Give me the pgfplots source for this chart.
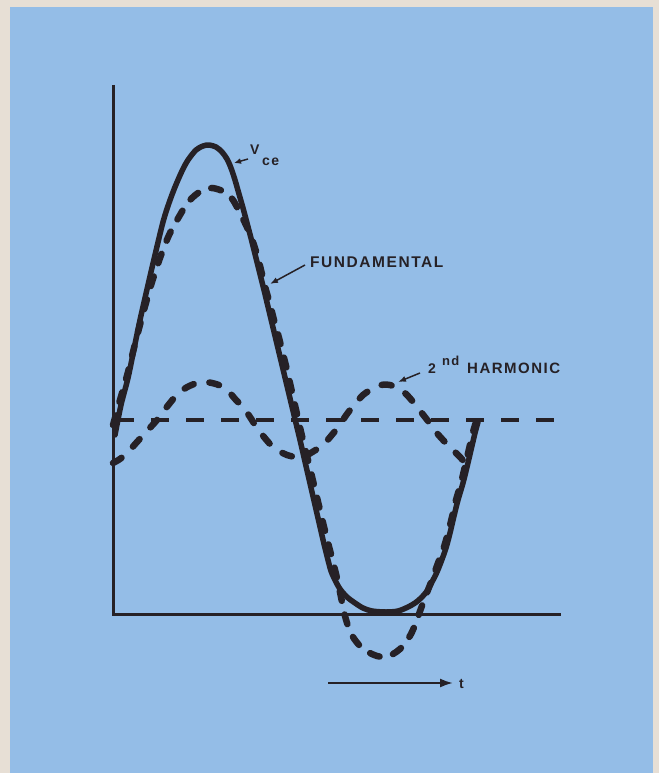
\documentclass[border=0pt]{standalone}
\usepackage{pgfplots}
\pgfplotsset{compat=1.18}
\usepackage{fontspec}
\setmainfont{Liberation Sans}
\newfontfamily\lab[LetterSpace=10]{Liberation Sans Bold}
\usetikzlibrary{arrows.meta}
\definecolor{bgblue}{RGB}{148,189,231}
\definecolor{beige}{RGB}{231,223,213}
\definecolor{ink}{RGB}{38,33,38}
\begin{document}
\begin{tikzpicture}
\begin{axis}[
  at={(0,0)}, anchor=south west,
  scale only axis, width=659bp, height=773bp,
  xmin=0, xmax=659, ymin=0, ymax=773, y dir=reverse,
  hide axis, clip=false,
]
% background panels
\addplot[fill=beige, draw=none] coordinates {(0,0)(659,0)(659,773)(0,773)} -- cycle;
\addplot[fill=bgblue, draw=none] coordinates {(10,7)(653,7)(653,773)(10,773)} -- cycle;
% axes
\addplot[ink, line width=3bp] coordinates {(113,85)(113,614)(561,614)};
% mean level
\addplot[ink, line width=3.5bp, dash pattern=on 18bp off 17bp] coordinates {(116,420)(560,420)};
% 2nd harmonic
\addplot[ink, line width=6.5bp, line cap=round, dash pattern=on 10bp off 16bp, smooth] coordinates {
(113,463)(120,459)(128,452)(137,442)(147,431)(157,420)(166,408)(175,397)(184,389)(194,384)(203,382)(212,383)(221,386)(229,392)(236,400)(243,407)(250,417)(257,428)(264,437)(271,445)(279,451)(287,455)(296,457)(305,456)(314,451)(323,445)(331,436)(339,426)(347,414)(355,404)(363,395)(372,389)(381,385)(390,385)(398,388)(406,394)(414,403)(421,412)(428,421)(436,432)(444,441)(452,449)(460,457)(467,465)};
% fundamental
\addplot[ink, line width=6.5bp, line cap=round, dash pattern=on 10bp off 14bp, smooth] coordinates {
(113,425)(120,400)(128,372)(136,340)(144,310)(152,282)(160,258)(166,242)(172,229)(180,215)(186,205)(192,198)(198,193)(204,190)(212,188)(220,190)(226,193)(233,200)(240,213)(245,223)(250,234)(254,245)(258,258)(262,274)(266,290)(270,304)(274,320)(278,334)(282,350)(287,370)(292,392)(297,414)(302,436)(308,460)(314,485)(320,510)(326,535)(332,558)(337,578)(341,597)(344,612)(348,626)(353,637)(360,646)(368,652)(377,656)(385,657)(393,654)(400,649)(406,642)(411,634)(415,625)(419,614)(423,603)(428,590)(433,577)(438,563)(443,550)(448,533)(452,517)(456,500)(461,483)(465,466)(469,449)(473,432)(476,422)};
% V_ce
\addplot[ink, line width=5.5bp, line cap=round, line join=round, smooth] coordinates {
(115,435)(121,405)(128,378)(134,349)(140,320)(148,285)(155,255)(163,222)(169,203)(175,187)(182,171)(188,160)(196,150)(203,146)(209,145)(216,147)(222,152)(227,159)(231,168)(235,180)(239,194)(243,208)(247,223)(252,242)(258,266)(264,290)(270,315)(276,340)(282,365)(288,390)(294,415)(300,440)(306,466)(312,492)(318,518)(324,544)(328,560)(331,571)(335,580)(340,589)(347,597)(355,603)(363,608)(372,611)(386,612)(398,611)(408,607)(415,603)(421,598)(427,591)(432,582)(437,572)(441,562)(446,548)(450,533)(454,516)(458,500)(463,483)(467,467)(471,450)(475,433)(478,422)};
% labels
\node[anchor=base west, inner sep=0pt, text=ink] at (axis cs:250,155) {\lab\fontsize{14bp}{14bp}\selectfont V};
\node[anchor=base west, inner sep=0pt, text=ink] at (axis cs:262,166) {\lab\fontsize{14bp}{14bp}\selectfont ce};
\draw[ink, line width=1.5bp, -{Latex[length=7bp,width=6bp]}] (axis cs:248,159) -- (axis cs:234,163);
\node[anchor=base west, inner sep=0pt, text=ink] at (axis cs:310,267) {\lab\fontsize{15.5bp}{15.5bp}\selectfont FUNDAMENTAL};
\draw[ink, line width=1.5bp, -{Latex[length=8bp,width=6bp]}] (axis cs:305,265) -- (axis cs:270,284);
\node[anchor=base west, inner sep=0pt, text=ink] at (axis cs:428,373) {\lab\fontsize{14bp}{14bp}\selectfont 2};
\node[anchor=base west, inner sep=0pt, text=ink] at (axis cs:442,365) {\lab\fontsize{13bp}{13bp}\selectfont nd};
\node[anchor=base west, inner sep=0pt, text=ink] at (axis cs:467,373) {\lab\fontsize{15bp}{15bp}\selectfont HARMONIC};
\draw[ink, line width=1.5bp, -{Latex[length=8bp,width=6bp]}] (axis cs:420,373) -- (axis cs:398,382);
\draw[ink, line width=2bp, -{Latex[length=13bp,width=9bp]}] (axis cs:328,683) -- (axis cs:453,683);
\node[anchor=base west, inner sep=0pt, text=ink] at (axis cs:459,688) {\lab\fontsize{14bp}{14bp}\selectfont t};
\end{axis}
\end{tikzpicture}
\end{document}
